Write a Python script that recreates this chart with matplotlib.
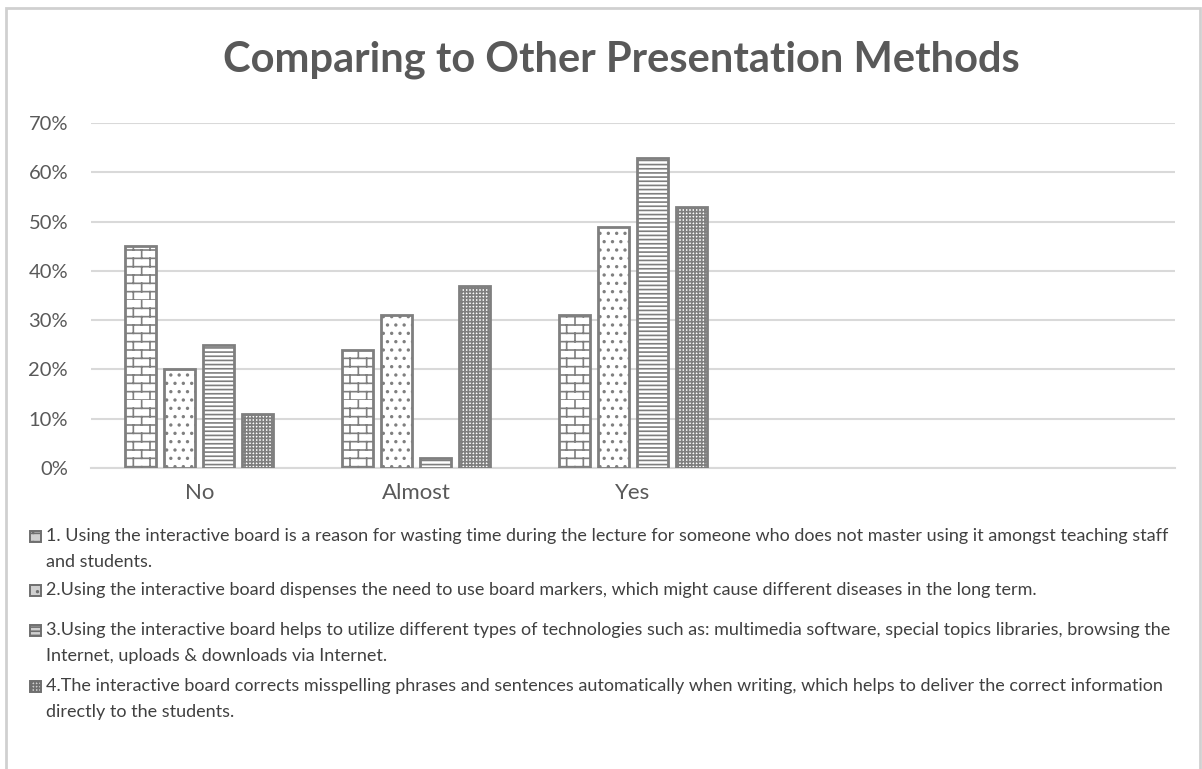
import warnings
import numpy as np
import matplotlib
matplotlib.use("Agg")
import matplotlib.pyplot as plt
import matplotlib.hatch as mhatch
from matplotlib.path import Path
from matplotlib.patches import Rectangle

warnings.filterwarnings("ignore")

categories = ["No", "Almost", "Yes", "", ""]
series_1 = [0.45, 0.24, 0.31]
series_2 = [0.20, 0.31, 0.49]
series_3 = [0.25, 0.02, 0.63]
series_4 = [0.11, 0.37, 0.53]
series_values = [series_1, series_2, series_3, series_4]

legend_labels = [
    "1. Using the interactive board is a reason for wasting time during the lecture for someone who does not master using it amongst teaching staff\nand students.",
    "2.Using the interactive board dispenses the need to use board markers, which might cause different diseases in the long term.",
    "3.Using the interactive board helps to utilize different types of technologies such as: multimedia software, special topics libraries, browsing the\nInternet, uploads & downloads via Internet.",
    "4.The interactive board corrects misspelling phrases and sentences automatically when writing, which helps to deliver the correct information\ndirectly to the students.",
]
y_ticks = [0, 0.1, 0.2, 0.3, 0.4, 0.5, 0.6, 0.7]
y_ticklabels = ["0%", "10%", "20%", "30%", "40%", "50%", "60%", "70%"]


class BrickHatch(mhatch.HatchPatternBase):
    """Staggered brick wall, selected with the 'b' hatch character."""

    def __init__(self, hatch, density):
        self.rows = int(hatch.count("b") * density)
        self.cols = self.rows // 2
        self.num_vertices = (self.rows + self.rows * self.cols) * 2

    def set_vertices_and_codes(self, vertices, codes):
        if self.rows == 0:
            return
        h = 1.0 / self.rows
        w = 1.0 / self.cols
        segs = []
        for i in range(self.rows):
            y0 = i * h
            segs.append(((0.0, y0), (1.0, y0)))
            shift = 0.0 if i % 2 == 0 else w / 2
            for k in range(self.cols):
                x = k * w + shift
                segs.append(((x, y0), (x, y0 + h)))
        arr = np.array(segs).reshape(-1, 2)
        vertices[:] = arr
        codes[0::2] = Path.MOVETO
        codes[1::2] = Path.LINETO


mhatch._hatch_types.append(BrickHatch)

FONT = "Lato"
plt.rcParams["font.family"] = [FONT, "DejaVu Sans"]
plt.rcParams["hatch.linewidth"] = 1.2

edge = "#7f7f7f"
hatches = ["bb", "..", "----", "+++++"]

W, H = 1202, 769
fig = plt.figure(figsize=(W / 100, H / 100), dpi=100)
ax = fig.add_axes([91 / W, 1 - 468 / H, (1175 - 91) / W, (468 - 123) / H])

x = np.arange(len(categories))
bar_w = 0.143
pitch = 0.180
for i, (vals, hatch) in enumerate(zip(series_values, hatches)):
    pos = x[:len(vals)] + (i - 1.5) * pitch
    ax.bar(pos, vals, width=bar_w, facecolor="white", edgecolor=edge,
           linewidth=2, hatch=hatch, zorder=3)

ax.set_xlim(-0.5, len(categories) - 0.5)
ax.set_ylim(0, 0.7)
ax.set_yticks(y_ticks)
ax.set_yticklabels(y_ticklabels)
ax.set_xticks(x)
ax.set_xticklabels(categories)
ax.tick_params(axis="both", length=0, labelcolor="#595959")
ax.tick_params(axis="y", pad=16.5, labelsize=14.5)
ax.tick_params(axis="x", pad=11, labelsize=16)
ax.grid(axis="y", color="#d9d9d9", linewidth=1.5, zorder=0)
for side in ["left", "right", "top"]:
    ax.spines[side].set_visible(False)
ax.spines["bottom"].set_color("#d9d9d9")
ax.spines["bottom"].set_linewidth(1.5)

fig.text(621 / W, 1 - 60 / H, "Comparing to Other Presentation Methods",
         ha="center", va="center", fontsize=30, fontweight="bold",
         color="#595959")

# legend below the plot, one block per series
entry_y = [536, 590, 630, 686]
line_gap = 26
for label, hatch, ey in zip(legend_labels, hatches, entry_y):
    fig.patches.append(Rectangle((30 / W, 1 - (ey + 6) / H), 11 / W, 11 / H,
                                 transform=fig.transFigure, facecolor="#d0d0d0",
                                 edgecolor="#6f6f6f", linewidth=1.4, hatch=hatch))
    for j, line in enumerate(label.split("\n")):
        fig.text(46 / W, 1 - (ey + j * line_gap) / H, line, ha="left",
                 va="center", fontsize=13, color="#404040")

# chart border
fig.patches.append(Rectangle((6 / W, -0.05), (1200 - 6) / W, 1.05 - 8 / H,
                             transform=fig.transFigure, fill=False,
                             edgecolor="#d0d0d0", linewidth=2))

fig.savefig("out.png", dpi=100)
